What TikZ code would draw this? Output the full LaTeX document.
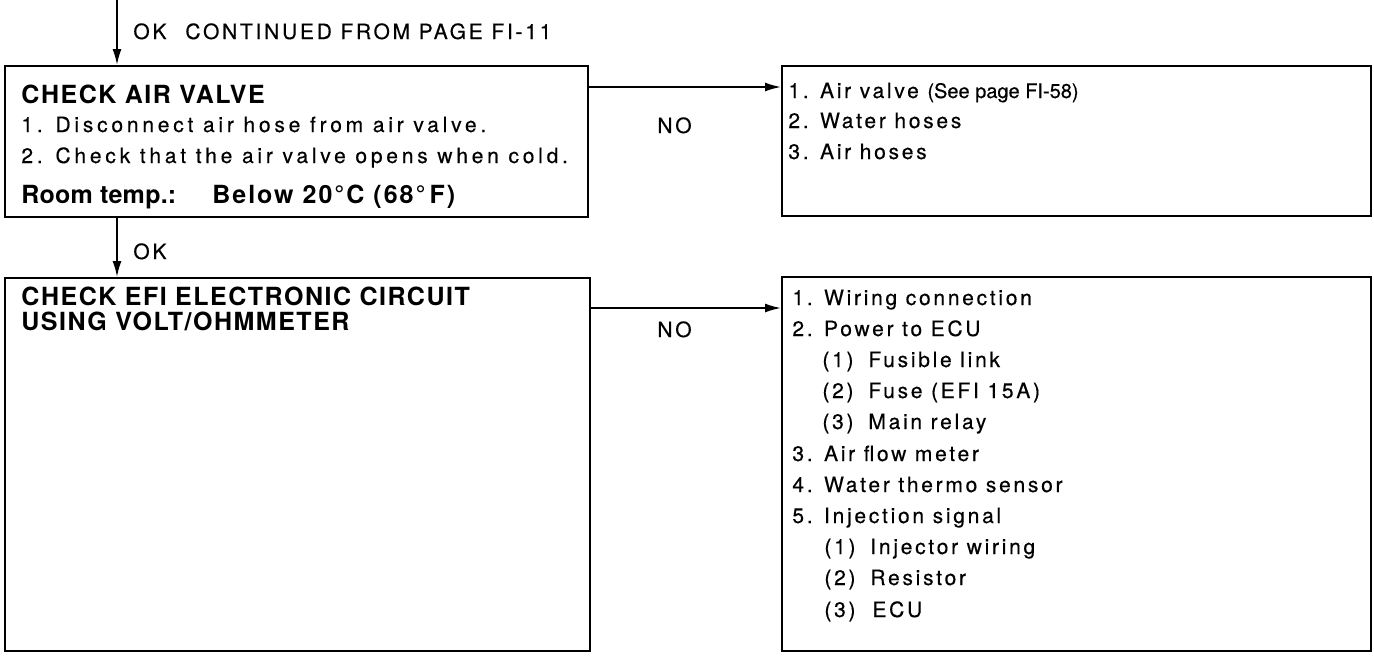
\documentclass[tikz,border=0pt]{standalone}
\usepackage{fontspec}
\setmainfont{TeX Gyre Heros}[LetterSpace=13,FakeBold=0.4]
\newfontfamily\wideface{TeX Gyre Heros}[LetterSpace=18,FakeBold=0.4]
\newfontfamily\tightface{TeX Gyre Heros}[LetterSpace=0,FakeBold=0.4]
\newfontfamily\headface{TeX Gyre Heros}[LetterSpace=6]
\newfontfamily\roomface{TeX Gyre Heros}[LetterSpace=1]
\newfontfamily\belowface{TeX Gyre Heros}[LetterSpace=8]
\usetikzlibrary{arrows.meta}
\begin{document}
\begin{tikzpicture}[x=0.5pt,y=-0.5pt,
  box/.style={draw,line width=1pt,anchor=north west,inner sep=0pt},
  txt/.style={anchor=base west,inner sep=0pt,font=\fontsize{10.5}{12}\selectfont},
  wtxt/.style={anchor=base west,inner sep=0pt,font=\fontsize{10.5}{12}\wideface},
  hd/.style={anchor=base west,inner sep=0pt,font=\fontsize{12.5}{15}\headface\bfseries},
  flow/.style={line width=0.9pt,-{Latex[length=8pt,width=4.5pt]}}]
\useasboundingbox (0,0) rectangle (1374,655);
% boxes
\node[box,minimum width=291.5pt,minimum height=75.5pt] (b1) at (4,65) {};
\node[box,minimum width=294.5pt,minimum height=75pt] (b2) at (781,65) {};
\node[box,minimum width=292.5pt,minimum height=186.5pt] (b3) at (4,277) {};
\node[box,minimum width=294.5pt,minimum height=187pt] (b4) at (781,276) {};
% top entry
\coordinate (top) at (117,0);
\draw[flow] (top) -- (top |- b1.north);
\node[txt] (ok1) at (133,39) {OK};
\node[txt] (cont) at (185,39) {CONTINUED FROM PAGE FI-11};
% box 1 text
\node[hd] (h1) at (21,103) {CHECK AIR VALVE};
\node[wtxt] (l11) at (21,132) {1. Disconnect air hose from air valve.};
\node[wtxt] (l12) at (21,163) {2. Check that the air valve opens when cold.};
\node[anchor=base west,inner sep=0pt,font=\fontsize{12.5}{15}\roomface\bfseries] (l13) at (21,203) {Room temp.:\hspace{18pt}{\belowface\bfseries Below 20°C (68°\,F)}};
% box 2 text
\node[txt] (r11) at (788,98) {1. Air valve {\fontsize{10}{12}\tightface(See page FI-58)}};
\node[txt] (r12) at (788,128) {2. Water hoses};
\node[txt] (r13) at (788,159) {3. Air hoses};
% NO arrow 1
\coordinate (n1) at (587,87);
\draw[flow] (n1) -- (n1 -| b2.west);
\node[txt] (no1) at (657,133) {NO};
% OK arrow 2
\coordinate (m1) at (117,216);
\draw[flow] (m1) -- (m1 |- b3.north);
\node[txt] (ok2) at (133,259) {OK};
% box 3 text
\node[hd] (h3a) at (21,305) {CHECK EFI ELECTRONIC CIRCUIT};
\node[hd] (h3b) at (21,330) {USING VOLT/OHMMETER};
% NO arrow 2
\coordinate (n2) at (589,308);
\draw[flow] (n2) -- (n2 -| b4.west);
\node[txt] (no2) at (657,337) {NO};
% box 4 text
\node[txt] (s1) at (792,305) {1. Wiring connection};
\node[txt] (s2) at (792,336) {2. Power to ECU};
\node[txt] (s2a) at (822,367) {\makebox[23pt][l]{(1)}Fusible link};
\node[txt] (s2b) at (822,398) {\makebox[23pt][l]{(2)}Fuse (EFI 15A)};
\node[txt] (s2c) at (822,429) {\makebox[23pt][l]{(3)}Main relay};
\node[txt] (s3) at (792,461) {3. Air flow meter};
\node[txt] (s4) at (792,492) {4. Water thermo sensor};
\node[txt] (s5) at (792,523) {5. Injection signal};
\node[txt] (s5a) at (824,554) {\makebox[23pt][l]{(1)}Injector wiring};
\node[txt] (s5b) at (824,585) {\makebox[23pt][l]{(2)}Resistor};
\node[txt] (s5c) at (824,617) {\makebox[24pt][l]{(3)}ECU};
\end{tikzpicture}
\end{document}
